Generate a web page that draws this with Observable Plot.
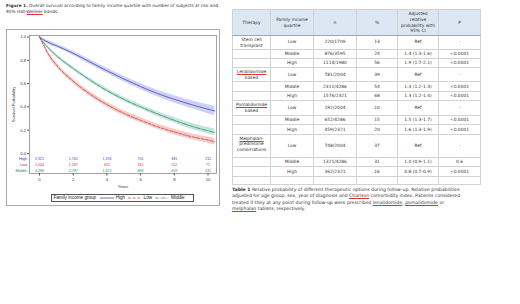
<!DOCTYPE html>
<html>
<head>
<meta charset="utf-8">
<script src="https://cdn.jsdelivr.net/npm/d3@7"></script>
<script src="https://cdn.jsdelivr.net/npm/@observablehq/plot@0.6"></script>
<style>
  html, body { margin: 0; padding: 0; background: #fff; }
  body { width: 520px; height: 304px; position: relative; overflow: hidden; font-family: "DejaVu Sans", Verdana, sans-serif; color: #333; }
  .abs { position: absolute; }
  .sq { text-decoration: underline; text-decoration-color: #e03030; text-decoration-thickness: 0.6px; text-underline-offset: 0.6px; }
  #figcap { left: 6px; top: 2.6px; width: 216px; font-size: 4.3px; line-height: 6.4px; }
  #figbox { left: 6px; top: 29px; width: 212px; height: 175px; border: 1px solid #aaa; }
  #legend { left: 51px; top: 193.5px; height: 6.5px; width: 141px; border: 0.8px solid #555; font-family: "Liberation Sans", Arial, sans-serif; font-size: 4.6px; line-height: 6.5px; display: flex; align-items: center; gap: 0; color: #222; background: #fff; }
  #legend span { white-space: nowrap; }
  #legend svg { display: block; }
  table { border-collapse: collapse; table-layout: fixed; font-size: 4.4px; line-height: 5.6px; color: #333; }
  td, th { border: 1px solid #d2d2d2; text-align: center; vertical-align: middle; padding: 0 1px; font-weight: normal; white-space: pre-line; overflow: hidden; }
  th { background: #dde7f2; border-bottom: 1px solid #93a9c6; }
  td.ther { vertical-align: top; padding-top: 1px; }
  #tabcap { left: 232px; top: 186.5px; width: 260px; font-size: 4.6px; line-height: 6.6px; white-space: nowrap; }
</style>
</head>
<body>
<div id="figcap" class="abs"><b>Figure 1.</b> Overall survival according to family income quartile with number of subjects at risk and<br>95% Hall-<span class="sq">Wellner</span> bands.</div>
<div id="figbox" class="abs"></div>
<div id="main" class="abs" style="left:7px;top:30px;"></div>
<div id="risk" class="abs" style="left:7px;top:155px;"></div>
<div id="legend" class="abs"></div>
<div id="tab" class="abs" style="left:232px;top:9px;"></div>
<div id="tabcap" class="abs"><b>Table 1</b> Relative probability of different therapeutic options during follow-up. Relative probabilities<br>adjusted for age group, sex, year of diagnosis and <span class="sq">Charlson</span> comorbidity index. Patients considered<br>treated if they at any point during follow-up were prescribed <span class="sq">lenalidomide</span>, <span class="sq">pomalidomide</span> or<br><span class="sq">melphalan</span> tablets, respectively.</div>
<script>
// ---------------- Data ----------------
const groups = ["High", "Low", "Middle"];
const years = [0, 0.25, 0.5, 1, 2, 3, 4, 5, 6, 7, 8, 9, 10, 10.4];
const survHigh   = [1, 0.975, 0.955, 0.925, 0.86, 0.785, 0.71, 0.64, 0.575, 0.515, 0.465, 0.42, 0.38, 0.365];
const survLow    = [1, 0.93, 0.86, 0.76, 0.62, 0.51, 0.42, 0.345, 0.285, 0.23, 0.185, 0.145, 0.115, 0.10];
const survMiddle = [1, 0.95, 0.91, 0.84, 0.73, 0.63, 0.54, 0.465, 0.40, 0.34, 0.285, 0.235, 0.195, 0.18];
const bandHigh   = [0.005, 0.012, 0.014, 0.016, 0.018, 0.02, 0.022, 0.024, 0.026, 0.028, 0.031, 0.034, 0.038, 0.04];
const bandLow    = [0.005, 0.015, 0.017, 0.018, 0.019, 0.02, 0.02, 0.021, 0.022, 0.023, 0.024, 0.025, 0.027, 0.028];
const bandMiddle = [0.005, 0.012, 0.013, 0.014, 0.015, 0.016, 0.017, 0.018, 0.019, 0.021, 0.023, 0.025, 0.028, 0.03];

const riskYears = [0, 2, 4, 6, 8, 10];
const riskHigh   = [2321, 1761, 1194, 701, 381, 211];
const riskLow    = [2004, 1187, 612, 315, 152, 71];
const riskMiddle = [4286, 2787, 1622, 883, 409, 241];

const xTicks = [0, 2, 4, 6, 8, 10];
const yTicks = [0, 0.2, 0.4, 0.6, 0.8, 1.0];

const tableHeader = ["Therapy", "Family income\nquartile", "n", "%", "Adjusted\nrelative\nprobability with\n95% CI", "P"];
const therapies = ["Stem cell\ntransplant", "Lenalidomide\nbased", "Pomalidomide\nbased", "Melphalan-\nprednisone\ncombinations"];
const quartiles = ["Low", "Middle", "High"];
const nValues = ["220/1709", "876/3595", "1114/1980", "781/2004", "2311/4286", "1576/2321", "192/2004", "652/4286", "459/2321", "748/2004", "1321/4286", "362/2321"];
const pctValues = ["13", "24", "56", "39", "54", "68", "10", "15", "20", "37", "31", "16"];
const adjValues = ["Ref", "1.4 (1.3-1.6)", "1.9 (1.7-2.1)", "Ref", "1.3 (1.2-1.3)", "1.3 (1.2-1.4)", "Ref", "1.5 (1.3-1.7)", "1.6 (1.3-1.9)", "Ref", "1.0 (0.9-1.1)", "0.8 (0.7-0.9)"];
const pValues = ["-", "<0.0001", "<0.0001", "-", "<0.0001", "<0.0001", "-", "<0.0001", "<0.0001", "-", "0.6", "<0.0001"];

// ---------------- Styles ----------------
const style = {
  High:   {line: "#4a4fb3", fill: "#c6c8f4", text: "#3a3fc0", dash: null},
  Low:    {line: "#c8443c", fill: "#f6c1be", text: "#d0302a", dash: "3,1.6"},
  Middle: {line: "#3e8674", fill: "#b6e2d7", text: "#2a8a66", dash: "3.5,1.2,0.9,1.2"}
};
const survData = {High: survHigh, Low: survLow, Middle: survMiddle};
const bandData = {High: bandHigh, Low: bandLow, Middle: bandMiddle};
const riskData = {High: riskHigh, Low: riskLow, Middle: riskMiddle};

const W = 212, H = 175, mL = 22, mR = 3, mT = 5, mB = 32;
const xDomain = [-0.593, 10.504];
const yDomain = [-0.172, 1.013];

const rowsOf = g => years.map((t, i) => ({t, s: survData[g][i], lo: survData[g][i] - bandData[g][i], hi: survData[g][i] + bandData[g][i]}));

const marks = [];
for (const g of ["Middle", "Low", "High"]) {
  marks.push(Plot.areaY(rowsOf(g), {x: "t", y1: "lo", y2: "hi", fill: style[g].fill, fillOpacity: 0.85, curve: "monotone-x"}));
}
for (const g of ["Middle", "Low", "High"]) {
  marks.push(Plot.line(rowsOf(g), {x: "t", y: "s", stroke: style[g].line, strokeWidth: 0.85, strokeDasharray: style[g].dash, curve: "monotone-x"}));
}
marks.push(Plot.frame({stroke: "#8a8a8a", strokeWidth: 0.8}));
marks.push(Plot.axisY({ticks: yTicks, tickFormat: d3.format(".1f"), tickSize: 2, tickPadding: 1.5, fontSize: 4.2, stroke: "#555", fill: "#333",
  label: "Survival Probability", labelAnchor: "center", labelOffset: 17, labelArrow: "none"}));
marks.push(Plot.axisX({ticks: xTicks, tickSize: 2.5, tickPadding: 2, fontSize: 4.2, stroke: "#555", fill: "#333",
  label: "Years", labelAnchor: "center", labelOffset: 14, labelArrow: "none"}));

const main = Plot.plot({
  width: W, height: H, marginLeft: mL, marginRight: mR, marginTop: mT, marginBottom: mB,
  x: {domain: xDomain},
  y: {domain: yDomain},
  style: {fontFamily: "Liberation Sans, Arial, sans-serif", fontSize: "4.6px", background: "transparent", color: "#333"},
  marks
});
document.getElementById("main").appendChild(main);

// At-risk table overlay
const riskMarks = [];
for (const g of groups) {
  const rr = riskYears.map((t, i) => ({t, g, n: riskData[g][i]}));
  riskMarks.push(Plot.text(rr, {x: "t", y: "g", text: "n", fill: style[g].text, fontSize: 3.6}));
  riskMarks.push(Plot.text([g], {y: d => d, text: d => d, frameAnchor: "left", dx: -2.3, textAnchor: "end", fill: style[g].text, fontSize: 4}));
}
const risk = Plot.plot({
  width: W, height: 19, marginLeft: mL, marginRight: mR, marginTop: 0, marginBottom: 0,
  x: {domain: xDomain, axis: null},
  y: {type: "band", domain: groups, axis: null},
  style: {fontFamily: "Liberation Sans, Arial, sans-serif", background: "transparent", overflow: "visible"},
  marks: riskMarks
});
document.getElementById("risk").appendChild(risk);

// Legend
const legend = document.getElementById("legend");
const addSpan = (txt, ml) => { const s = document.createElement("span"); s.textContent = txt; s.style.marginLeft = ml + "px"; legend.appendChild(s); };
const addLine = (g, ml) => {
  const ns = "http://www.w3.org/2000/svg";
  const svg = document.createElementNS(ns, "svg");
  svg.setAttribute("width", 14); svg.setAttribute("height", 4);
  svg.style.marginLeft = ml + "px";
  const l = document.createElementNS(ns, "line");
  l.setAttribute("x1", 0); l.setAttribute("x2", 14); l.setAttribute("y1", 2); l.setAttribute("y2", 2);
  l.setAttribute("stroke", style[g].line); l.setAttribute("stroke-width", 0.8);
  if (style[g].dash) l.setAttribute("stroke-dasharray", style[g].dash);
  svg.appendChild(l); legend.appendChild(svg);
};
addSpan("Family income group", 1.5);
addLine("High", 4); addSpan("High", 1.5);
addLine("Low", 3); addSpan("Low", 1.5);
addLine("Middle", 3); addSpan("Middle", 2);

// Table
const colW = [38, 43, 43, 41, 41, 42];
const rowH = [13.5, 9.3, 9.3, 14, 9.7, 9.3, 14.7, 9.3, 9.8, 23.3, 9.2, 9.2, 8.5];
const underlineWords = ["Lenalidomide", "Pomalidomide", "Melphalan-"];
const tbl = document.createElement("table");
tbl.style.width = d3.sum(colW) + "px";
const cg = document.createElement("colgroup");
colW.forEach(w => { const c = document.createElement("col"); c.style.width = w + "px"; cg.appendChild(c); });
tbl.appendChild(cg);
const hr = document.createElement("tr"); hr.style.height = "26px";
tableHeader.forEach(h => { const th = document.createElement("th"); th.textContent = h; hr.appendChild(th); });
tbl.appendChild(hr);
for (let r = 0; r < 13; r++) {
  const tr = document.createElement("tr"); tr.style.height = rowH[r] + "px";
  const cells = r < 12 ? [r % 3 === 0 ? therapies[r / 3] : "", quartiles[r % 3], nValues[r], pctValues[r], adjValues[r], pValues[r]] : ["", "", "", "", "", ""];
  cells.forEach((c, j) => {
    const td = document.createElement("td");
    if (j === 0) {
      td.className = "ther";
      const parts = c.split("\n");
      parts.forEach((p, k) => {
        if (k) td.appendChild(document.createElement("br"));
        if (underlineWords.includes(p)) { const s = document.createElement("span"); s.className = "sq"; s.textContent = p; td.appendChild(s); }
        else td.appendChild(document.createTextNode(p));
      });
    } else td.textContent = c;
    tr.appendChild(td);
  });
  tbl.appendChild(tr);
}
document.getElementById("tab").appendChild(tbl);
</script>
</body>
</html>
